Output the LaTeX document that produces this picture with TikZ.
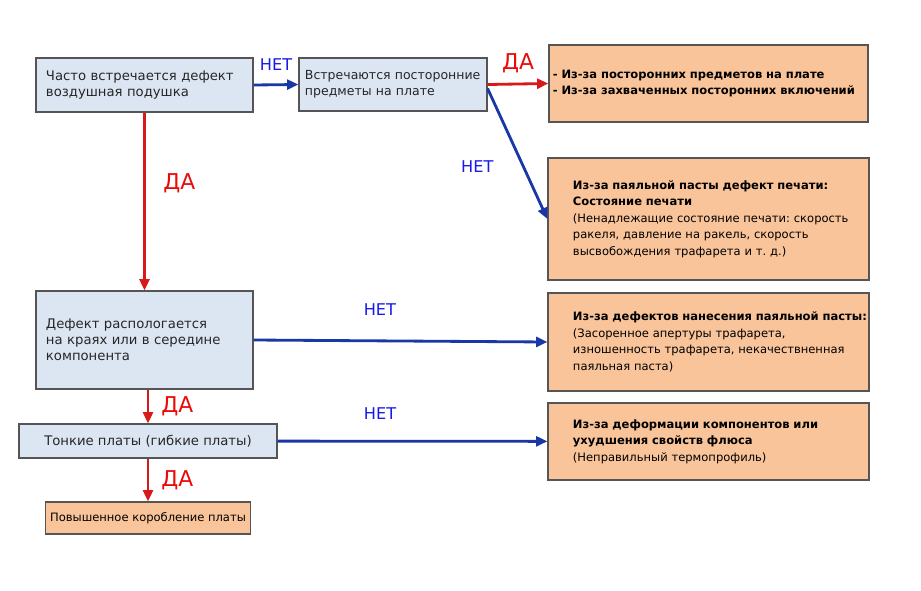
\documentclass[tikz,border=0pt]{standalone}
\usepackage{fontspec}
\setmainfont{DejaVu Sans}
\frenchspacing
\usetikzlibrary{arrows.meta, calc}

\definecolor{boxblue}{RGB}{220,230,242}
\definecolor{boxorange}{RGB}{249,196,154}
\definecolor{boxline}{RGB}{85,85,85}
\definecolor{yesred}{RGB}{215,25,25}
\definecolor{nodarkblue}{RGB}{25,55,165}
\definecolor{labred}{RGB}{235,10,10}
\definecolor{labblue}{RGB}{25,25,235}

\begin{document}
\begin{tikzpicture}[x=0.025cm, y=-0.025cm]

        \tikzstyle{bluebox} = [draw=boxline, line width=0.8pt, fill=boxblue, align=left, text=black!85, font=\fontsize{9.4}{11.3}\selectfont];
        \tikzstyle{orangebox} = [draw=boxline, line width=0.8pt, fill=boxorange, align=left, text=black, font=\fontsize{8.2}{11.7}\selectfont];
        \tikzstyle{yesarrow} = [line width=2pt, yesred, -{Triangle[length=8pt, width=7pt]}];
        \tikzstyle{noarrow} = [line width=2pt, nodarkblue, -{Triangle[length=8pt, width=7pt]}];
        \tikzstyle{yeslabel} = [text=labred, font=\fontsize{15.5}{17}\selectfont];
        \tikzstyle{nolabel} = [text=labblue, font=\fontsize{11.5}{13}\selectfont];

        \useasboundingbox (0,0) rectangle (921,591);

        \node[bluebox, text width=4.925cm, inner xsep=0.25cm, minimum height=1.35cm] (Q1) at (144.5,85) {Часто встречается дефект\\воздушная подушка};
        \node[bluebox, text width=4.4cm, inner xsep=0.15cm, minimum height=1.325cm, font=\fontsize{8.9}{11.3}\selectfont] (Q2) at (393,84.5) {\mbox{Встречаются посторонние}\\предметы на плате};
        \node[bluebox, text width=4.925cm, inner xsep=0.25cm, minimum height=2.45cm] (Q3) at (144.5,340) {Дефект распологается\\на краях или в середине\\компонента};
        \node[bluebox, align=center, minimum width=6.45cm, minimum height=0.85cm] (Q4) at (148,441) {Тонкие платы (гибкие платы)};


        \node[orangebox, text width=7.775cm, inner xsep=0.1cm, minimum height=1.925cm] (C1) at (708.5,83.5) {\textbf{- Из-за посторонних предметов на плате}\\\textbf{- Из-за захваченных посторонних включений}};
        \node[orangebox, text width=6.775cm, inner xsep=0.625cm, minimum height=3.05cm] (C2) at (708.5,219) {\textbf{Из-за паяльной пасты дефект печати:}\\\textbf{Состояние печати}\\\mbox{(Ненадлежащие состояние печати: скорость}\\ракеля, давление на ракель, скорость\\высвобождения трафарета и т. д.)};
        \node[orangebox, text width=6.775cm, inner xsep=0.625cm, minimum height=2.45cm] (C3) at (708.5,342) {\mbox{\textbf{Из-за дефектов нанесения паяльной пасты:}}\\(Засоренное апертуры трафарета,\\\mbox{изношенность трафарета, некачествненная}\\паяльная паста)};
        \node[orangebox, text width=6.775cm, inner xsep=0.625cm, minimum height=1.925cm] (C4) at (708.5,441.5) {\textbf{Из-за деформации компонентов или}\\\textbf{ухудшения свойств флюса}\\(Неправильный термопрофиль)};
        \node[orangebox, align=center, minimum width=5.05cm, minimum height=0.8cm] (C5) at (148,518) {Повышенное коробление платы};


        \draw [noarrow] (Q1.east) -- node[nolabel, above=2mm] {НЕТ} (Q2.west);
        \draw [yesarrow] (Q2.east) -- node[yeslabel, above=1.2mm] {ДА} (C1.west);
        \draw [noarrow] ($(Q2.east)+(0,4)$) -- node[nolabel, pos=0.6, left=6mm] {НЕТ} (C2.west);

        \draw [yesarrow] (Q1) -- node[yeslabel, pos=0.4, right=3.2mm] {ДА} (Q3);
        \draw [noarrow] (Q3.east) -- node[nolabel, pos=0.43, above=4.7mm] {НЕТ} (C3.west);

        \draw [yesarrow] (Q3.south -| Q4) -- node[yeslabel, right=1.8mm] {ДА} (Q4);
        \draw [noarrow] (Q4) -- node[nolabel, pos=0.38, above=4mm] {НЕТ} (C4);

        \draw [yesarrow] (Q4) -- node[yeslabel, right=1.8mm] {ДА} (C5);

\end{tikzpicture}
\end{document}
